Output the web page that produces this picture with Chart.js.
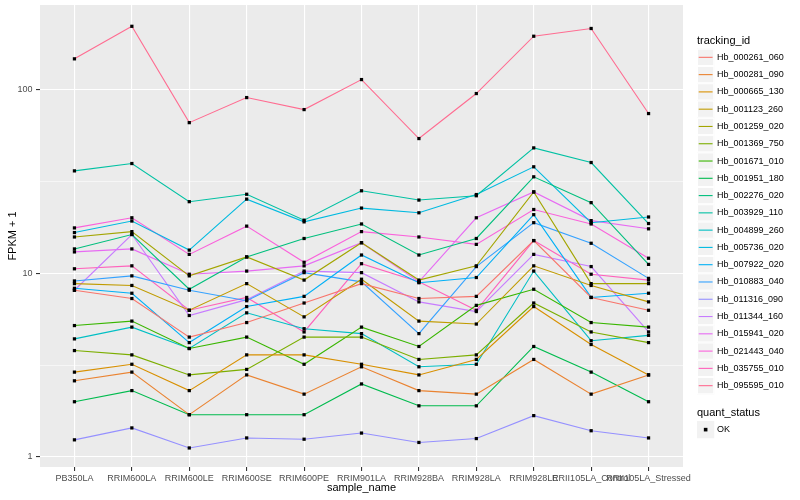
<!DOCTYPE html>
<html>
<head>
<meta charset="utf-8">
<script src="https://cdn.jsdelivr.net/npm/chart.js@4.4.0/dist/chart.umd.min.js"></script>
<style>
  html, body { margin: 0; padding: 0; background: #fff; }
</style>
</head>
<body>
<canvas id="chart" width="800" height="500"></canvas>
<script>
// categories on the x axis
var categories = ["PB350LA", "RRIM600LA", "RRIM600LE", "RRIM600SE", "RRIM600PE", "RRIM901LA",
                  "RRIM928BA", "RRIM928LA", "RRIM928LE", "RRII105LA_Control", "RRII105LA_Stressed"];

// FPKM + 1 per tracking_id
var hb_000261_060 = [8.1, 7.3, 4.5, 5.4, 6.9, 8.8, 7.3, 7.5, 15.1, 7.4, 6.3];
var hb_000281_090 = [2.6, 2.9, 1.7, 2.8, 2.2, 3.1, 2.3, 2.2, 3.4, 2.2, 2.8];
var hb_000665_130 = [2.9, 3.2, 2.3, 3.6, 3.6, 3.2, 2.8, 3.4, 6.6, 4.1, 2.8];
var hb_001123_260 = [8.8, 8.6, 6.3, 8.8, 5.8, 9.3, 5.5, 5.3, 11.0, 8.6, 7.0];
var hb_001259_020 = [15.8, 16.9, 9.7, 12.3, 9.2, 14.7, 9.2, 11.0, 27.8, 8.8, 8.8];
var hb_001369_750 = [3.8, 3.6, 2.8, 3.0, 4.5, 4.5, 3.4, 3.6, 6.9, 4.8, 4.2];
var hb_001671_010 = [5.2, 5.5, 3.9, 4.5, 3.2, 5.1, 4.0, 6.7, 8.2, 5.4, 5.1];
var hb_001951_180 = [2.0, 2.3, 1.7, 1.7, 1.7, 2.5, 1.9, 1.9, 4.0, 2.9, 2.0];
var hb_002276_020 = [13.6, 16.3, 8.2, 12.3, 15.5, 18.6, 12.6, 15.5, 33.6, 24.3, 11.2];
var hb_003929_110 = [36.2, 39.7, 24.6, 27.0, 19.5, 28.2, 25.1, 26.5, 48.3, 40.2, 18.7];
var hb_004899_260 = [4.4, 5.1, 3.9, 6.1, 5.0, 4.7, 3.1, 3.2, 10.3, 4.3, 4.6];
var hb_005736_020 = [16.7, 19.3, 13.4, 25.4, 19.1, 22.7, 21.4, 26.9, 38.1, 18.9, 20.3];
var hb_007922_020 = [8.3, 7.8, 4.2, 6.6, 7.5, 12.6, 8.9, 9.5, 20.9, 7.4, 7.8];
var hb_010883_040 = [9.1, 9.7, 8.1, 7.1, 10.1, 9.0, 4.7, 10.9, 18.9, 14.6, 9.4];
var hb_011316_090 = [1.24, 1.44, 1.12, 1.27, 1.25, 1.35, 1.20, 1.26, 1.68, 1.39, 1.27];
var hb_011344_160 = [8.1, 16.3, 5.9, 7.2, 10.3, 10.1, 7.0, 6.2, 12.7, 10.9, 4.8];
var hb_015941_020 = [13.1, 13.6, 9.9, 10.3, 11.0, 14.7, 9.0, 20.1, 27.8, 19.4, 17.5];
var hb_021443_040 = [17.7, 20.1, 12.7, 18.1, 11.5, 16.9, 15.8, 14.4, 22.3, 18.6, 12.1];
var hb_035755_010 = [10.6, 11.0, 6.3, 7.4, 4.8, 11.3, 9.0, 6.3, 15.1, 9.9, 9.2];
var hb_095595_010 = [147.6, 222, 66.3, 90.8, 78.1, 113.8, 54.3, 95.5, 196, 216, 74.3];

var seriesNames = ["Hb_000261_060", "Hb_000281_090", "Hb_000665_130", "Hb_001123_260", "Hb_001259_020",
                   "Hb_001369_750", "Hb_001671_010", "Hb_001951_180", "Hb_002276_020", "Hb_003929_110",
                   "Hb_004899_260", "Hb_005736_020", "Hb_007922_020", "Hb_010883_040", "Hb_011316_090",
                   "Hb_011344_160", "Hb_015941_020", "Hb_021443_040", "Hb_035755_010", "Hb_095595_010"];
var seriesValues = [hb_000261_060, hb_000281_090, hb_000665_130, hb_001123_260, hb_001259_020,
                    hb_001369_750, hb_001671_010, hb_001951_180, hb_002276_020, hb_003929_110,
                    hb_004899_260, hb_005736_020, hb_007922_020, hb_010883_040, hb_011316_090,
                    hb_011344_160, hb_015941_020, hb_021443_040, hb_035755_010, hb_095595_010];

// y ticks: labelled majors and unlabelled minor grid lines
var yMajorTicks = [1, 10, 100];
var yTickLabels = ["1", "10", "100"];
var yMinorTicks = [3.1623, 31.623];

var palette = ["#F8766D", "#EA8331", "#D89000", "#C09B00", "#A3A500", "#7CAE00", "#39B600", "#00BB4E",
               "#00BF7D", "#00C1A3", "#00BFC4", "#00BAE0", "#00B0F6", "#35A2FF", "#9590FF", "#C77CFF",
               "#E76BF3", "#FA62DB", "#FF62BC", "#FF6C91"];

var FONT = "'Liberation Sans', Arial, sans-serif";

function toPoints(vals) {
  return vals.map(function (v, i) { return { x: i, y: v }; });
}

var datasets = [];
// lines first (drawn under), then the black points on top
seriesValues.forEach(function (vals, k) {
  datasets.push({
    label: seriesNames[k],
    data: toPoints(vals),
    borderColor: palette[k],
    borderWidth: 1.1,
    pointRadius: 0,
    fill: false,
    tension: 0,
    order: 2
  });
});
seriesValues.forEach(function (vals, k) {
  datasets.push({
    label: seriesNames[k] + " OK",
    data: toPoints(vals),
    showLine: false,
    pointStyle: "rect",
    pointRadius: 2.3,
    pointBorderWidth: 0,
    pointBackgroundColor: "#000000",
    pointBorderColor: "#000000",
    order: 1
  });
});

function isMajor(v) {
  return yMajorTicks.some(function (m) { return Math.abs(m - v) < 1e-6; });
}

var panelBg = {
  id: "panelBg",
  beforeDraw: function (chart) {
    var c = chart.ctx, a = chart.chartArea;
    c.save();
    c.fillStyle = "#FFFFFF";
    c.fillRect(0, 0, chart.width, chart.height);
    c.fillStyle = "#EBEBEB";
    c.fillRect(a.left, a.top, a.right - a.left, a.bottom - a.top);
    c.restore();
  }
};

var ggLegend = {
  id: "ggLegend",
  afterDraw: function (chart) {
    var c = chart.ctx, a = chart.chartArea;
    c.save();
    // axis titles
    c.fillStyle = "#000000";
    c.font = "11px " + FONT;
    c.textAlign = "center";
    c.textBaseline = "middle";
    c.fillText("sample_name", (a.left + a.right) / 2, 488);
    c.save();
    c.translate(13, (a.top + a.bottom) / 2);
    c.rotate(-Math.PI / 2);
    c.fillText("FPKM + 1", 0, 0);
    c.restore();

    // tracking_id legend
    var kx = 697, ks = 17.28, y0 = 48.7;
    c.textAlign = "left";
    c.textBaseline = "alphabetic";
    c.fillText("tracking_id", kx, 44);
    c.font = "9px " + FONT;
    c.textBaseline = "middle";
    seriesNames.forEach(function (name, k) {
      var ty = y0 + k * ks;
      c.fillStyle = "#F2F2F2";
      c.fillRect(kx, ty, ks, ks);
      c.strokeStyle = "#FFFFFF";
      c.lineWidth = 1;
      c.strokeRect(kx + 0.5, ty + 0.5, ks - 1, ks - 1);
      c.strokeStyle = palette[k];
      c.lineWidth = 1.1;
      c.beginPath();
      c.moveTo(kx + 1.7, ty + ks / 2);
      c.lineTo(kx + ks - 1.7, ty + ks / 2);
      c.stroke();
      c.fillStyle = "#000000";
      c.fillText(name, kx + ks + 2.8, ty + ks / 2);
    });

    // quant_status legend
    c.font = "11px " + FONT;
    c.textBaseline = "alphabetic";
    c.fillText("quant_status", kx, 416);
    var qy = 421;
    c.fillStyle = "#F2F2F2";
    c.fillRect(kx, qy, ks, ks);
    c.fillStyle = "#000000";
    c.fillRect(kx + ks / 2 - 1.8, qy + ks / 2 - 1.8, 3.6, 3.6);
    c.font = "9px " + FONT;
    c.textBaseline = "middle";
    c.fillText("OK", kx + ks + 2.8, qy + ks / 2);
    c.restore();
  }
};

new Chart(document.getElementById("chart"), {
  type: "line",
  data: { datasets: datasets },
  plugins: [panelBg, ggLegend],
  options: {
    responsive: false,
    animation: false,
    events: [],
    layout: { padding: { left: 0, top: 5, right: 117, bottom: 0 } },
    plugins: { legend: { display: false }, tooltip: { enabled: false } },
    scales: {
      x: {
        type: "linear",
        min: -0.6,
        max: 10.6,
        afterBuildTicks: function (s) {
          s.ticks = categories.map(function (_, i) { return { value: i }; });
        },
        afterFit: function (s) {
          s.height = 33;
          s.paddingLeft = 0;
          s.paddingRight = 0;
        },
        ticks: {
          autoSkip: false,
          maxRotation: 0,
          minRotation: 0,
          padding: 2,
          color: "#4D4D4D",
          font: { family: FONT, size: 9 },
          callback: function (v) { return categories[v]; }
        },
        grid: { color: "#FFFFFF", lineWidth: 1.1, tickLength: 4, tickColor: "#333333" },
        border: { display: false }
      },
      y: {
        type: "logarithmic",
        min: 0.882,
        max: 290,
        afterBuildTicks: function (s) {
          s.ticks = yMajorTicks.concat(yMinorTicks).map(function (v) { return { value: v }; });
        },
        afterFit: function (s) {
          s.width = 40;
          s.paddingTop = 0;
          s.paddingBottom = 0;
        },
        ticks: {
          padding: 3.5,
          color: "#4D4D4D",
          font: { family: FONT, size: 9 },
          callback: function (v) {
            var i = yMajorTicks.findIndex(function (m) { return Math.abs(m - v) < 1e-6; });
            return i >= 0 ? yTickLabels[i] : "";
          }
        },
        grid: {
          color: "#FFFFFF",
          lineWidth: function (ctx) { return isMajor(ctx.tick.value) ? 1.1 : 0.55; },
          tickLength: 4,
          tickColor: function (ctx) { return isMajor(ctx.tick.value) ? "#333333" : "rgba(0,0,0,0)"; }
        },
        border: { display: false }
      }
    }
  }
});
</script>
</body>
</html>
